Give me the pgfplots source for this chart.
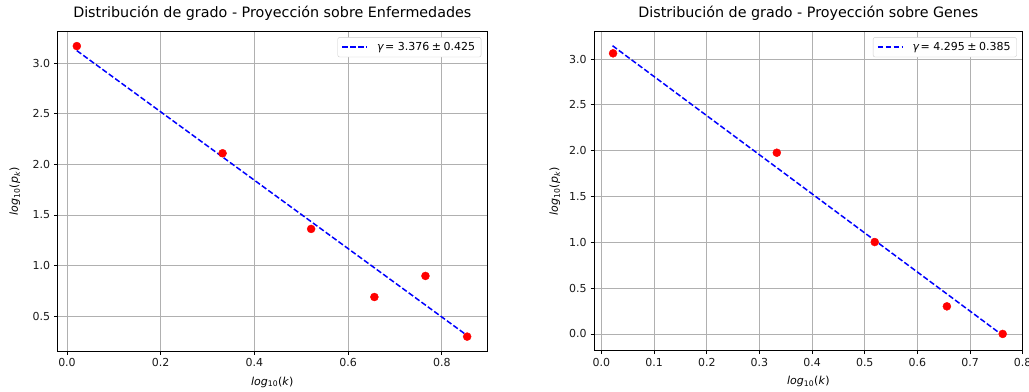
\documentclass[border=0pt]{standalone}
\usepackage{fontspec}
\setmainfont{DejaVu Sans}
\usepackage{pgfplots}
\pgfplotsset{compat=1.18}
\definecolor{gridgray}{HTML}{B0B0B0}
\definecolor{mplred}{HTML}{FF0000}
\definecolor{mplblue}{HTML}{0000FF}
\newcommand{\tfont}{\fontsize{11bp}{13bp}\selectfont}
\pgfplotsset{
  mystyle/.style={
    scale only axis,
    axis line style={black, line width=1bp},
    tick align=outside,
    xtick pos=bottom, ytick pos=left,
    major tick length=3.5bp,
    tick style={black, line width=0.8bp},
    grid=major,
    major grid style={gridgray, line width=0.8bp},
    /pgf/number format/.cd, fixed, fixed zerofill, precision=1, assume math mode=true, /pgfplots/.cd,
    tick label style={font=\tfont, text=black!90},
    xticklabel style={inner sep=0pt, anchor=north, yshift=-3.7bp},
    yticklabel style={inner sep=0pt, anchor=east, xshift=-3.6bp},
    title style={font=\fontsize{14.3bp}{17bp}\selectfont, anchor=base, inner sep=0pt},
    xlabel style={font=\tfont, anchor=base, inner sep=0pt},
    ylabel style={font=\tfont, anchor=base, inner sep=0pt},
    legend style={at={(1,1)}, anchor=north east, xshift=-6bp, yshift=-5.5bp,
      draw=black!20, rounded corners=2bp, fill=white, column sep=7bp,
      font=\tfont, inner xsep=4bp, inner ysep=3bp, cells={anchor=west}},
    legend image code/.code={\draw[#1] (0bp,0bp) -- (25bp,0bp);},
  },
  pts/.style={only marks, mark=*, mark size=4bp, mark options={fill=mplred, draw=mplred}},
  fit/.style={color=mplblue, line width=1.5bp, dash pattern=on 5.5bp off 2.4bp, no marks},
}
\begin{document}
\begin{tikzpicture}
\useasboundingbox (0,0) rectangle (1029bp,392bp);
\begin{axis}[mystyle,
  at={(57.3bp,41bp)}, anchor=south west,
  width=430bp, height=319.3bp,
  xmin=-0.0207, xmax=0.897, ymin=0.157, ymax=3.309,
  xtick={0,0.2,0.4,0.6,0.8}, ytick={0.5,1,1.5,2,2.5,3},
  title={Distribución de grado - Proyección sobre Enfermedades},
  title style={at={(axis description cs:0.5,1.0263)}},
  xlabel={\textit{log}\textsubscript{10}(\textit{k})},
  xlabel style={at={(axis description cs:0.5,-0.1065)}},
  ylabel={\textit{log}\textsubscript{10}(\textit{p}\textsubscript{\textit{k}})},
  ylabel style={at={(axis description cs:-0.0914,0.5)}},
]
\addplot[pts, forget plot] coordinates {(0.021,3.167) (0.332,2.109) (0.521,1.362) (0.656,0.690) (0.765,0.898) (0.854,0.299)};
\addplot[fit] coordinates {(0.021,3.122) (0.854,0.310)};
\addlegendentry{\textit{γ}\hspace{1bp}= 3.376\hspace{2.5bp}±\hspace{2.5bp}0.425}
\end{axis}
\begin{axis}[mystyle,
  at={(594bp,41.3bp)}, anchor=south west,
  width=428.7bp, height=319bp,
  xmin=-0.0142, xmax=0.800, ymin=-0.183, ymax=3.299,
  xtick={0,0.1,0.2,0.3,0.4,0.5,0.6,0.7,0.8}, ytick={0,0.5,1,1.5,2,2.5,3},
  title={Distribución de grado - Proyección sobre Genes},
  title style={at={(axis description cs:0.5,1.0263)}},
  xlabel={\textit{log}\textsubscript{10}(\textit{k})},
  xlabel style={at={(axis description cs:0.5,-0.1066)}},
  ylabel={\textit{log}\textsubscript{10}(\textit{p}\textsubscript{\textit{k}})},
  ylabel style={at={(axis description cs:-0.084,0.5)}},
]
\addplot[pts, forget plot] coordinates {(0.022,3.063) (0.333,1.978) (0.519,1.003) (0.656,0.301) (0.762,0.000)};
\addplot[fit] coordinates {(0.021,3.146) (0.763,-0.020)};
\addlegendentry{\textit{γ}\hspace{1bp}= 4.295\hspace{2.5bp}±\hspace{2.5bp}0.385}
\end{axis}
\end{tikzpicture}
\end{document}
